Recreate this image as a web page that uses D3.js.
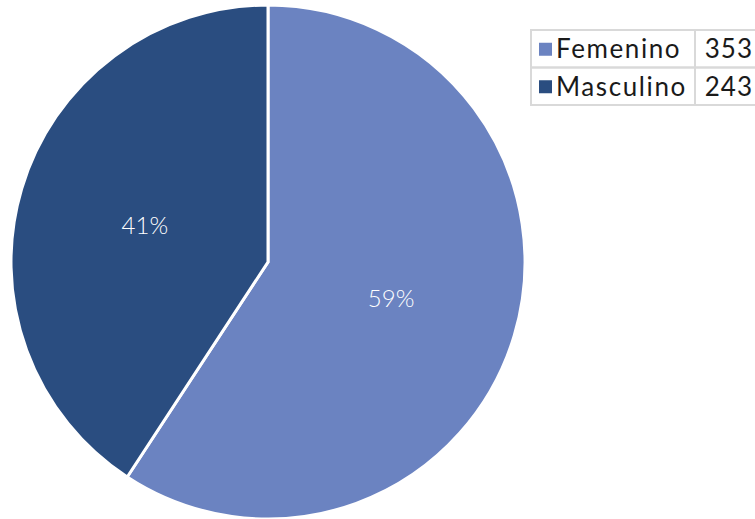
<!DOCTYPE html>
<html><head><meta charset="utf-8">
<script src="https://cdn.jsdelivr.net/npm/d3@7"></script>
<style>body{margin:0;background:#fff;}svg{display:block;}</style>
</head><body>
<svg id="c" width="755" height="519"></svg>
<script>
const categories = ["Femenino", "Masculino"];
const values = [353, 243];
const colors = ["#6b83c1", "#2a4d80"];

const svg = d3.select("#c");
const cx = 268, cy = 262, R = 257;
const total = d3.sum(values);
const pie = d3.pie().sort(null).value(d => d.v);
const arcs = pie(categories.map((c, i) => ({c, v: values[i], col: colors[i]})));
const arc = d3.arc().innerRadius(0).outerRadius(R);
const labelArc = d3.arc().innerRadius(R * 0.5).outerRadius(R * 0.5);
const g = svg.append("g").attr("transform", `translate(${cx},${cy})`);
g.selectAll("path").data(arcs).join("path")
  .attr("d", arc).attr("fill", d => d.data.col)
  .attr("stroke", "#fff").attr("stroke-width", 3).attr("stroke-linejoin", "miter");
g.selectAll("text").data(arcs).join("text")
  .attr("transform", d => `translate(${labelArc.centroid(d)})`)
  .attr("text-anchor", "middle").attr("dy", "0.36em")
  .attr("fill", "#fff").attr("font-family", "Lato").attr("font-weight", 300)
  .attr("font-size", 24)
  .text(d => Math.round(d.data.v / total * 100) + "%");

// legend table
const lx = 531, ly = 30, rowH = 37.5, col1 = 164, col2 = 70;
const leg = svg.append("g");
const y = d3.scaleBand().domain(categories).range([ly, ly + rowH * categories.length]);
categories.forEach((c, i) => {
  const yy = y(c);
  leg.append("rect").attr("x", lx).attr("y", yy).attr("width", col1).attr("height", rowH)
    .attr("fill", "none").attr("stroke", "#d9d9d9").attr("stroke-width", 2);
  leg.append("rect").attr("x", lx + col1).attr("y", yy).attr("width", col2).attr("height", rowH)
    .attr("fill", "none").attr("stroke", "#d9d9d9").attr("stroke-width", 2);
  leg.append("rect").attr("x", lx + 8).attr("y", yy + rowH / 2 - 6).attr("width", 13).attr("height", 13)
    .attr("fill", colors[i]);
  leg.append("text").attr("x", lx + 25).attr("y", yy + rowH / 2).attr("dy", "0.36em")
    .attr("font-family", "Lato").attr("font-size", 26).attr("letter-spacing", 1.6)
    .attr("fill", "#1a1a1a").text(c);
  leg.append("text").attr("x", 753).attr("y", yy + rowH / 2).attr("dy", "0.36em")
    .attr("text-anchor", "end").attr("letter-spacing", 1)
    .attr("font-family", "Lato").attr("font-size", 26).attr("fill", "#1a1a1a").text(values[i]);
});
</script>
</body></html>
